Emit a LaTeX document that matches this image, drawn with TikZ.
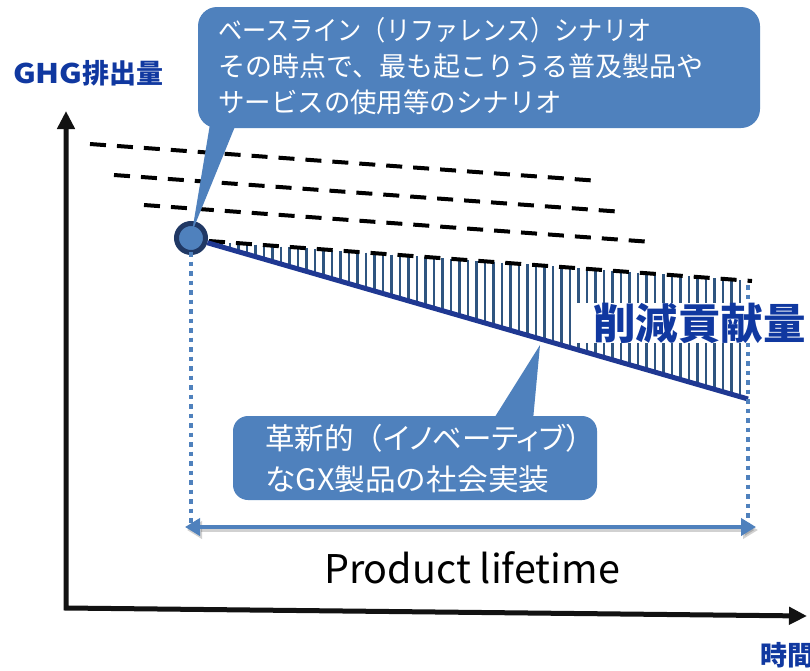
\documentclass[tikz,border=0pt]{standalone}
\usepackage{fontspec}
\setmainfont{Noto Sans CJK JP}
\newfontfamily\jpprop[RawFeature=+palt]{Noto Sans CJK JP}
\usetikzlibrary{arrows.meta}
\definecolor{calloutc}{RGB}{79,129,189}
\definecolor{navyc}{RGB}{31,56,146}
\definecolor{hatchc}{RGB}{47,85,128}
\definecolor{labelc}{RGB}{16,56,160}
\definecolor{ringc}{RGB}{32,56,100}
\tikzset{
  axisline/.style={line width=5pt, color=black!93, line join=miter,
    arrows={Triangle[length=18pt,width=17pt]-Triangle[length=18pt,width=17pt]}},
  dashline/.style={line width=4pt, black, dash pattern=on 16pt off 11pt},
  hatchline/.style={line width=2.2pt, hatchc},
  navyline/.style={line width=5pt, navyc},
  ringnode/.style={circle, fill=calloutc, draw=ringc, line width=5pt, minimum size=29pt, inner sep=0pt},
  dotline/.style={line width=4.5pt, calloutc, dash pattern=on 4.5pt off 5pt},
  lifearrow/.style={line width=4pt, calloutc, arrows={Triangle[length=15pt,width=17pt]-Triangle[length=15pt,width=17pt]}},
  bubble/.style={fill=calloutc, rounded corners=19pt, inner sep=0pt},
  bubbletext/.style={anchor=base west, inner sep=0pt, text=white, font=\fontsize{27pt}{36pt}\selectfont},
  bubbletextb/.style={anchor=base west, inner sep=0pt, text=white, font=\fontsize{29.5pt}{36pt}\selectfont},
  bluelabel/.style={anchor=base west, inner sep=0pt, text=labelc, font=\bfseries\fontsize{27pt}{30pt}\selectfont},
}
\begin{document}
\begin{tikzpicture}[x=1pt,y=-1pt]
\useasboundingbox (0,0) rectangle (810,670);
\fill[white] (0,0) rectangle (810,670);

% axes
\coordinate (O) at (66,608);
\coordinate (Ytop) at (66,111);
\coordinate (Xend) at (807,616);
\draw[axisline] (Ytop) -- (O) -- (Xend);

% hatching between baseline and GX line
\foreach \x in {213,221.5,...,746} {
  \draw[hatchline] (\x,{241+0.0728*(\x-205)}) -- (\x,{238+0.2885*(\x-191)});
}

% dashed scenario lines
\coordinate (d1s) at (90,144);  \coordinate (d1e) at (600,181);
\coordinate (d2s) at (114,175); \coordinate (d2e) at (624,212);
\coordinate (d3s) at (144,205); \coordinate (d3e) at (652,242);
\coordinate (d4s) at (209,241); \coordinate (d4e) at (752,281);
\draw[dashline] (d1s) -- (d1e);
\draw[dashline] (d2s) -- (d2e);
\draw[dashline] (d3s) -- (d3e);
\draw[dashline] (d4s) -- (d4e);

% GX product line
\node[ringnode] (ring) at (191,238) {};
\coordinate (gend) at (748,399);
\draw[navyline] (ring) -- (gend);

% dotted verticals
\coordinate (lt) at (191,233); \coordinate (lb) at (191,523);
\coordinate (rt) at (748,285); \coordinate (rb) at (748,523);
\draw[dotline] (lt) -- (lb);
\draw[dotline] (rt) -- (rb);

% product lifetime arrow
\coordinate (al) at (185,527); \coordinate (ar) at (756,527);
\draw[lifearrow, black, opacity=0.18, transform canvas={xshift=2pt,yshift=-3pt}] (al) -- (ar);
\draw[lifearrow] (al) -- (ar);
\node[anchor=base, inner sep=0pt, font=\fontsize{39.5pt}{46pt}\selectfont] (plt) at (472,583) {Product lifetime};

% reduction label
\node[anchor=base west, fill=white, inner xsep=20pt, inner ysep=0pt, text=labelc,
  font=\bfseries\fontsize{42.5pt}{48pt}\selectfont] (red) at (573,339) {削減貢献量};

% top callout
\fill[bubble] (198,7) rectangle (760,128);
\fill[calloutc] (210,124) -- (236,124) -- (192,232) -- cycle;
\node[bubbletext] (t1) at (218,40) {\scalebox{0.895}[1]{ベースライン（リファレンス）シナリオ}};
\node[bubbletext] (t2) at (218,76) {その時点で、最も起こりうる普及製品や};
\node[bubbletext] (t3) at (218,112) {\scalebox{0.98}[1]{サービスの使用等のシナリオ}};

% bottom callout
\fill[bubble, rounded corners=15pt] (233,416) rectangle (597,500);
\fill[calloutc] (493,420) -- (533,420) -- (540,345) -- cycle;
\node[bubbletextb] (b1) at (265,449) {革新的（{\jpprop イノベーティブ}）};
\node[bubbletextb] (b2) at (265,490) {\scalebox{1.04}[1]{なGX製品の社会実装}};

% axis labels
\node[bluelabel] (ylab) at (13,83) {\scalebox{1.15}[1]{GHG}排出量};
\node[bluelabel] (xlab) at (760,665) {時間};
\end{tikzpicture}
\end{document}
